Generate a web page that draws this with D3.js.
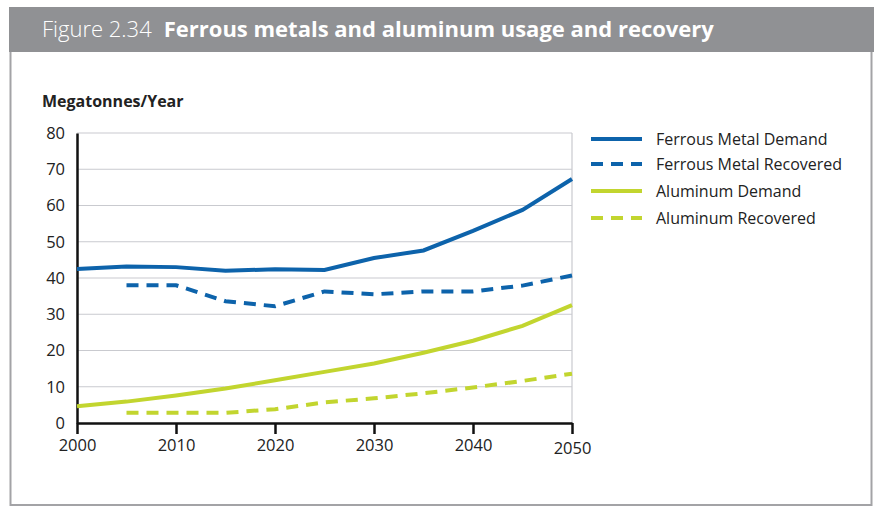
<!DOCTYPE html>
<html lang="en">
<head>
    <meta charset="utf-8">
    <title>Ferrous metals and aluminum usage and recovery</title>
    <script src="https://d3js.org/d3.v7.min.js"></script>
    <style type="text/css">
        body { margin: 0; background: #fff; }
        text { font-family: "Open Sans", sans-serif; }
    </style>
</head>
<body>
<script type="text/javascript">

    // data (megatonnes / year)
    const years = [2000, 2005, 2010, 2015, 2020, 2025, 2030, 2035, 2040, 2045, 2050];
    const ferrousDemand = [42.5, 43.2, 43.0, 42.0, 42.4, 42.2, 45.5, 47.6, 53.0, 58.8, 67.3];
    const ferrousRecovered = [null, 38.0, 38.0, 33.6, 32.2, 36.3, 35.5, 36.3, 36.3, 37.9, 40.7];
    const aluminumDemand = [4.6, 5.9, 7.6, 9.5, 11.8, 14.1, 16.4, 19.4, 22.7, 26.8, 32.5];
    const aluminumRecovered = [null, 2.8, 2.8, 2.8, 3.8, 5.7, 6.8, 8.2, 9.8, 11.6, 13.6];
    const yTicks = [0, 10, 20, 30, 40, 50, 60, 70, 80];
    const xTicks = [2000, 2010, 2020, 2030, 2040, 2050];

    const series = [
        { name: "Ferrous Metal Demand", values: ferrousDemand, color: "#0d63ab", dashed: false },
        { name: "Ferrous Metal Recovered", values: ferrousRecovered, color: "#0d63ab", dashed: true },
        { name: "Aluminum Demand", values: aluminumDemand, color: "#c2d52f", dashed: false },
        { name: "Aluminum Recovered", values: aluminumRecovered, color: "#c2d52f", dashed: true }
    ];

    const width = 874;
    const height = 508;
    const svg = d3.select("body")
        .append("svg")
        .attr("width", width)
        .attr("height", height);

    //frame + title bar
    svg.append("rect")
        .attr("x", 10.5).attr("y", 30)
        .attr("width", 861).attr("height", 475)
        .attr("fill", "none")
        .attr("stroke", "#a3a3a6")
        .attr("stroke-width", 2);

    svg.append("rect")
        .attr("x", 9).attr("y", 7)
        .attr("width", 865).attr("height", 45)
        .attr("fill", "#909194");

    const title = svg.append("text")
        .attr("x", 42).attr("y", 37)
        .attr("fill", "#fff")
        .style("font-size", "22px");
    title.append("tspan").style("font-weight", 300).text("Figure 2.34");
    title.append("tspan").attr("dx", 12).style("font-weight", 700).text("Ferrous metals and aluminum usage and recovery");

    //scales
    const x = d3.scaleLinear().domain([2000, 2050]).range([77, 572]);
    const y = d3.scaleLinear().domain([0, 80]).range([423, 133]);

    const g = svg.append("g");

    //gridlines
    g.selectAll(".grid")
        .data(yTicks.filter(d => d > 0))
        .join("line")
        .attr("x1", x(2000)).attr("x2", x(2050))
        .attr("y1", d => y(d)).attr("y2", d => y(d))
        .attr("stroke", "#c9cacf")
        .attr("stroke-width", 1.2);

    g.append("line")
        .attr("x1", x(2050)).attr("x2", x(2050))
        .attr("y1", y(80)).attr("y2", y(0))
        .attr("stroke", "#c9cacf")
        .attr("stroke-width", 1.2);

    //axes
    const yAxis = g.append("g")
        .attr("transform", `translate(${x(2000)},0)`)
        .call(d3.axisLeft(y).tickValues(yTicks).tickSize(0).tickPadding(12));
    yAxis.select(".domain").attr("stroke", "#111").attr("stroke-width", 2.5);
    yAxis.selectAll("text").style("font-size", "16.5px").attr("fill", "#222");

    const xAxis = g.append("g")
        .attr("transform", `translate(0,${y(0)})`)
        .call(d3.axisBottom(x).tickValues(xTicks).tickFormat(d3.format("d")).tickSize(11).tickSizeOuter(0).tickPadding(5));
    xAxis.select(".domain").attr("stroke", "#111").attr("stroke-width", 2.5);
    xAxis.selectAll("line").attr("stroke", "#111").attr("stroke-width", 2.5);
    xAxis.selectAll("text").style("font-size", "16.5px").attr("fill", "#222")
        .attr("dy", d => d === 2050 ? "0.92em" : "0.75em");

    svg.append("text")
        .attr("x", 42).attr("y", 107)
        .style("font-size", "16px")
        .style("font-weight", 700)
        .attr("fill", "#222")
        .text("Megatonnes/Year");

    //lines
    const line = d3.line()
        .defined(d => d[1] != null)
        .x(d => x(d[0]))
        .y(d => y(d[1]));

    g.selectAll(".series")
        .data(series)
        .join("path")
        .attr("d", s => line(years.map((yr, i) => [yr, s.values[i]])))
        .attr("fill", "none")
        .attr("stroke", s => s.color)
        .attr("stroke-width", 4)
        .attr("stroke-dasharray", s => s.dashed ? "12,8" : null);

    //legend
    const legend = svg.append("g").attr("transform", "translate(591,139)");
    const rowY = [0, 25, 52, 79];
    const item = legend.selectAll("g")
        .data(series)
        .join("g")
        .attr("transform", (d, i) => `translate(0,${rowY[i]})`);
    item.append("line")
        .attr("x1", 0).attr("x2", 51)
        .attr("stroke", d => d.color)
        .attr("stroke-width", 4)
        .attr("stroke-dasharray", d => d.dashed ? "12,8" : null);
    item.append("text")
        .attr("x", 65).attr("dy", "0.35em")
        .style("font-size", "16px")
        .attr("fill", "#222")
        .text(d => d.name);

</script>
</body>
</html>
